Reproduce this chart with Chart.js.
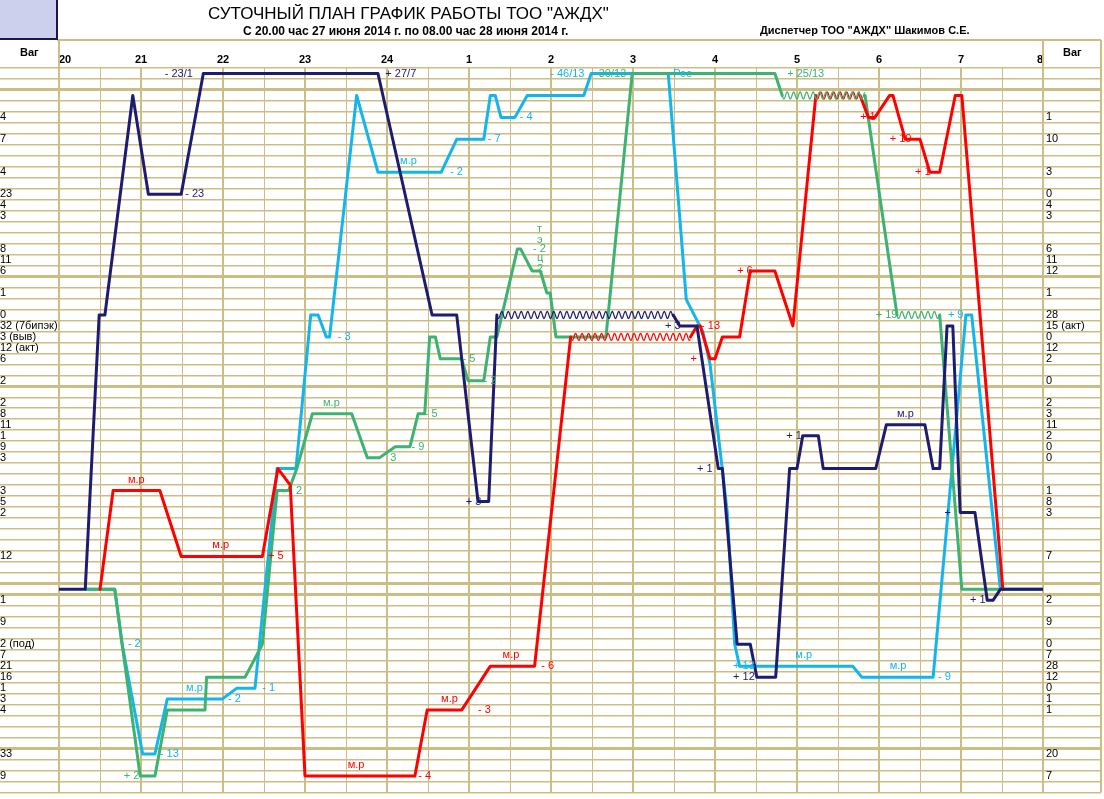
<!DOCTYPE html>
<html><head><meta charset="utf-8">
<script src="https://cdn.jsdelivr.net/npm/chart.js@4/dist/chart.umd.min.js"></script>
<style>
html,body{margin:0;padding:0;background:#fff;}
#wrap{position:relative;width:1104px;height:799px;overflow:hidden;font-family:"Liberation Sans",Arial,sans-serif;}
canvas{position:absolute;left:0;top:0;}
.t{position:absolute;white-space:nowrap;color:#000;line-height:1;}
</style></head><body>
<div id="wrap">
<canvas id="c" width="1104" height="799"></canvas>
<div class="t" style="left:208px;top:5px;font-size:17px;">СУТОЧНЫЙ ПЛАН ГРАФИК РАБОТЫ ТОО "АЖДХ"</div>
<div class="t" style="left:243px;top:25px;font-size:12px;font-weight:bold;">С 20.00 час 27 июня 2014 г. по 08.00 час 28 июня 2014 г.</div>
<div class="t" style="left:760px;top:25px;font-size:11px;font-weight:bold;">Диспетчер ТОО "АЖДХ" Шакимов С.Е.</div>
<div class="t" style="left:20px;top:47px;font-size:11px;font-weight:bold;">Ваг</div>
<div class="t" style="left:1063px;top:47px;font-size:11px;font-weight:bold;">Ваг</div>
</div>
<script>
// ---- axis texts ----
const hourLabels = ['20','21','22','23','24','1','2','3','4','5','6','7','8'];
const leftLabels = ['','','','','4','','7','','','4','','23','4','3','','','8','11','6','','1','','0','32 (7бипэк)','3 (выв)','12 (акт)','6','','2','','2','8','11','1','9','3','','','3','5','2','','','','12','','','','1','','9','','2 (под)','7','21','16','1','3','4','','','','33','','9',''];
const rightLabels = ['','','','','1','','10','','','3','','0','4','3','','','6','11','12','','1','','28','15 (акт)','0','12','2','','0','','2','3','11','2','0','0','','','1','8','3','','','','7','','','','2','','9','','0','7','28','12','0','1','1','','','','20','','7',''];
const thickRows = [1.5, 18.5, 28.5, 46.5, 47.5, 61.5];

// ---- series: time in hours after 20:00, row index ----
const navyTime = [0,0.32,0.49,0.56,0.90,1.09,1.49,1.76,3.89,4.55,4.85,5.11,5.24,5.34,7.49,7.57,7.78,8.04,8.09,8.27,8.43,8.51,8.74,8.91,9.00,9.07,9.26,9.32,9.96,10.09,10.56,10.66,10.74,10.83,10.90,10.99,11.17,11.32,11.39,11.48,12];
const navyRow  = [47,47,22,22,2,11,11,0,0,22,22,39,39,22,22,23,23,36,36,52,52,55,55,36,36,33,33,36,36,32,32,36,36,23,23,40,40,48,48,47,47];
const navyWave = [13];

const redTime = [0.50,0.66,1.23,1.49,2.48,2.67,2.82,3.00,4.34,4.49,4.91,5.26,5.80,6.24,7.70,7.78,7.82,7.94,8.00,8.09,8.30,8.43,8.73,8.95,9.23,9.77,9.87,9.95,10.13,10.17,10.32,10.50,10.62,10.74,10.93,11.01,11.51];
const redRow  = [47,38,38,44,44,36,37.5,64,64,58,58,54,54,24,24,23,23,26,26,24,24,18,18,23,2,2,4,4,2,2,6,6,9,9,2,2,47];
const redWave = [13,24];

const greenTime = [0.32,0.68,0.77,0.99,1.17,1.32,1.78,1.80,2.27,2.48,2.66,2.80,2.90,3.09,3.57,3.76,3.91,4.10,4.28,4.38,4.46,4.52,4.59,4.65,4.91,4.99,5.18,5.26,5.34,5.59,5.63,5.77,5.87,5.95,5.99,6.06,6.67,6.99,8.73,8.82,9.83,10.22,10.74,11.01,12];
const greenRow  = [47,47,52,64,64,58,58,55,55,52,38,38,36,31,31,35,35,34,34,31,31,24,24,26,26,28,28,24,24,16,16,18,18,20,20,24,24,0,0,2,2,22,22,47,47];
const greenWave = [39,41];

const cyanTime = [0.32,0.68,0.77,1.02,1.17,1.32,1.99,2.17,2.39,2.66,2.89,3.07,3.16,3.26,3.30,3.63,3.89,4.66,4.85,5.18,5.26,5.32,5.39,5.56,5.71,6.40,6.49,7.43,7.65,7.85,7.94,8.15,8.24,8.30,9.68,9.79,10.66,11.06,11.13,11.48];
const cyanRow  = [47,47,52,62,62,57,57,56,56,36,36,22,22,24,24,2,9,9,6,6,2,2,4,4,2,2,0,0,20.6,23.5,26.5,40,52,54,54,55,55,22,22,47];
const cyanWave = [];

// ---- notes along the lines: [time, row, text] ----
const navyNotes = [[1.29,0,'- 23/1'],[3.98,0,'+ 27/7'],[1.54,11,'- 23'],[4.96,39,'+ 3'],[7.39,23,'+ 3'],[7.78,36,'+ 1'],[8.22,55,'+ 12'],[8.87,33,'+ 1'],[10.22,31,'м.р'],[11.11,48,'+ 1'],[10.8,40,'+']];
const cyanNotes = [[0.84,52,'- 2'],[1.23,62,'- 13'],[1.55,56,'м.р'],[2.06,57,'- 2'],[2.48,56,'- 1'],[3.40,24,'- 3'],[4.16,8,'м.р'],[4.77,9,'- 2'],[5.23,6,'- 7'],[5.62,4,'- 4'],[5.99,0,'- 46/13'],[7.49,0,'Рес'],[8.22,54,'+ 13'],[8.98,53,'м.р'],[10.13,54,'м.р'],[10.72,55,'- 9'],[10.84,22,'+ 9']];
const greenNotes = [[0.79,64,'+ 2'],[2.89,38,'2'],[3.22,30,'м.р'],[4.04,35,'3'],[4.30,34,'- 9'],[4.46,31,'- 5'],[4.92,26,'- 5'],[5.18,28,'- 2'],[5.83,14.2,'т'],[5.83,15.2,'э'],[5.78,16,'- 2'],[5.83,16.8,'ц'],[5.83,17.8,'2'],[6.50,0,'- 30/13'],[8.88,0,'+ 25/13'],[9.96,22,'+ 19']];
const redNotes = [[0.84,37,'м.р'],[1.87,43,'м.р'],[2.55,44,'+ 5'],[3.52,63,'м.р'],[4.38,64,'- 4'],[4.66,57,'м.р'],[5.11,58,'- 3'],[5.41,53,'м.р'],[5.88,54,'- 6'],[7.83,23,'- 13'],[7.70,26,'+'],[8.27,18,'+ 6'],[9.77,4,'+ 1'],[10.13,6,'+ 10'],[10.44,9,'+ 1']];

const C = {navy:'#1c1c70', red:'#ff0000', green:'#3cb371', cyan:'#12b5ec', grid:'#cbbd83'};
const FONT = '"Liberation Sans", Arial, sans-serif';

function pts(ts, rs){ return ts.map((t,i)=>({x:t,y:rs[i]})); }
function ds(label, ts, rs, color, wave, notes){
  return {label, data: pts(ts,rs), borderColor: color, backgroundColor: color, borderWidth: 3,
    pointRadius: 0, fill:false, tension:0, borderJoinStyle:'round', borderCapStyle:'round',
    wave, notes,
    segment:{borderColor: c => wave.includes(c.p0DataIndex) ? 'rgba(0,0,0,0)' : undefined}};
}

const rowTicks = [];
for (let v = -0.5; v <= 65.5; v += 0.5) rowTicks.push({value: v});
const hourTicks = [];
for (let v = 0; v <= 12; v += 0.5) hourTicks.push({value: v});
const isInt = v => Math.abs(v - Math.round(v)) < 1e-6;
const rowColor = c => isInt(c.tick.value) ? 'rgba(0,0,0,0)' : C.grid;
const rowWidth = c => thickRows.some(r => Math.abs(r - c.tick.value) < 1e-6) ? 3 : 1.5;

const framePlugin = {
  id:'frame',
  beforeDraw(chart){
    const ctx = chart.ctx;
    ctx.save();
    ctx.fillStyle = '#fff'; ctx.fillRect(0,0,chart.width,chart.height);
    ctx.fillStyle = '#ccd0ec'; ctx.fillRect(0,0,56,38);
    ctx.restore();
  },
  afterDraw(chart){
    const ctx = chart.ctx, a = chart.chartArea;
    ctx.save();
    ctx.strokeStyle = C.grid; ctx.lineWidth = 2;
    ctx.beginPath();
    ctx.moveTo(57, 40); ctx.lineTo(1101, 40);
    ctx.moveTo(a.left, 40); ctx.lineTo(a.left, a.top);
    ctx.moveTo(a.right, 40); ctx.lineTo(a.right, a.top);
    ctx.moveTo(1101, 40); ctx.lineTo(1101, a.bottom);
    ctx.stroke();
    ctx.strokeStyle = '#1a1a4a'; ctx.lineWidth = 2;
    ctx.beginPath();
    ctx.moveTo(0, 39); ctx.lineTo(58, 39);
    ctx.moveTo(57, 0); ctx.lineTo(57, 40);
    ctx.stroke();
    ctx.restore();
  }
};

const wavePlugin = {
  id:'waves',
  afterDatasetsDraw(chart){
    const ctx = chart.ctx;
    chart.data.datasets.forEach((d, di) => {
      const meta = chart.getDatasetMeta(di);
      (d.wave || []).forEach(i => {
        const a = meta.data[i], b = meta.data[i+1];
        const dx = b.x - a.x, dy = b.y - a.y, L = Math.hypot(dx, dy);
        const ux = dx/L, uy = dy/L, nx = -uy, ny = ux;
        const wl = 6.5, amp = 3.5;
        ctx.save(); ctx.strokeStyle = d.borderColor; ctx.lineWidth = 1.2;
        ctx.beginPath();
        for (let s = 0; s <= L; s += 0.5) {
          const o = amp * Math.sin(2*Math.PI*s/wl);
          const px = a.x + ux*s + nx*o, py = a.y + uy*s + ny*o;
          if (s === 0) ctx.moveTo(px, py); else ctx.lineTo(px, py);
        }
        ctx.stroke(); ctx.restore();
      });
    });
  }
};

const notesPlugin = {
  id:'notes',
  afterDatasetsDraw(chart){
    const ctx = chart.ctx, xs = chart.scales.x, ys = chart.scales.y;
    ctx.save();
    ctx.font = '11px ' + FONT; ctx.textAlign = 'left'; ctx.textBaseline = 'middle';
    chart.data.datasets.forEach(d => {
      ctx.fillStyle = d.borderColor;
      (d.notes || []).forEach(n => ctx.fillText(n[2], xs.getPixelForValue(n[0]), ys.getPixelForValue(n[1])));
    });
    ctx.restore();
  }
};

new Chart(document.getElementById('c'), {
  type:'line',
  data:{ datasets:[
    ds('navy', navyTime, navyRow, C.navy, navyWave, navyNotes),
    ds('red', redTime, redRow, C.red, redWave, redNotes),
    ds('green', greenTime, greenRow, C.green, greenWave, greenNotes),
    ds('cyan', cyanTime, cyanRow, C.cyan, cyanWave, cyanNotes)
  ]},
  options:{
    responsive:false, animation:false, devicePixelRatio:1,
    layout:{padding:{top:0,left:0,right:0,bottom:5}},
    plugins:{legend:{display:false}, tooltip:{enabled:false}, title:{display:false}},
    scales:{
      x:{type:'linear', position:'top', min:0, max:12,
        afterBuildTicks: s => { s.ticks = hourTicks.map(t => ({value:t.value})); },
        afterFit: s => { s.height = 68; },
        border:{display:false},
        grid:{color:C.grid, lineWidth: c => isInt(c.tick.value) ? 2 : 1, drawTicks:false},
        ticks:{autoSkip:false, maxRotation:0, align:'inner', padding:1, color:'#000',
          font:{family:FONT, size:11, weight:'bold'},
          callback: v => isInt(v) ? hourLabels[Math.round(v)] : ''}
      },
      y:{type:'linear', position:'left', min:-0.5, max:65.5, reverse:true,
        afterBuildTicks: s => { s.ticks = rowTicks.map(t => ({value:t.value})); },
        afterFit: s => { s.width = 59; },
        border:{display:false},
        grid:{color:rowColor, lineWidth:rowWidth, tickColor:rowColor, tickWidth:rowWidth, tickLength:59, drawTicks:true},
        ticks:{autoSkip:false, crossAlign:'far', padding:0, color:'#000', font:{family:FONT, size:11},
          callback: v => isInt(v) ? leftLabels[Math.round(v)] : ''}
      },
      y2:{type:'linear', position:'right', min:-0.5, max:65.5, reverse:true,
        afterBuildTicks: s => { s.ticks = rowTicks.map(t => ({value:t.value})); },
        afterFit: s => { s.width = 61; },
        border:{display:false},
        grid:{drawOnChartArea:false, color:rowColor, lineWidth:rowWidth, tickColor:rowColor, tickWidth:rowWidth, tickLength:58, drawTicks:true},
        ticks:{autoSkip:false, crossAlign:'near', padding:-55, color:'#000', font:{family:FONT, size:11},
          callback: v => isInt(v) ? rightLabels[Math.round(v)] : ''}
      }
    }
  },
  plugins:[framePlugin, wavePlugin, notesPlugin]
});
</script>
</body></html>
